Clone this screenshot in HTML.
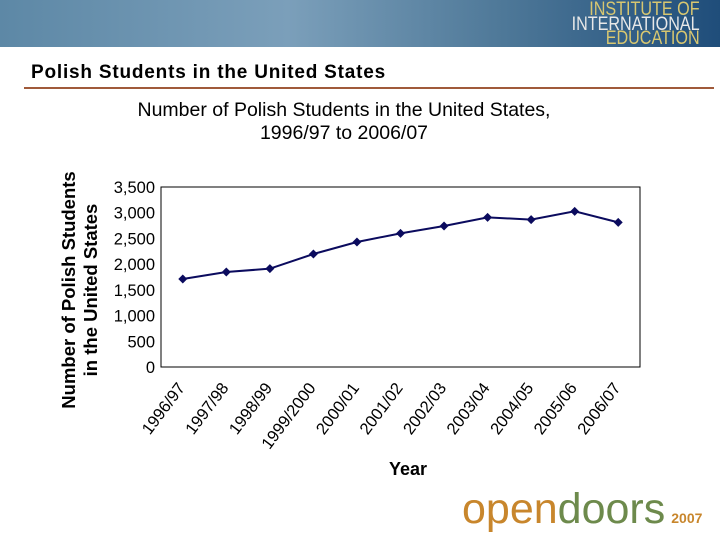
<!DOCTYPE html>
<html><head><meta charset="utf-8"><style>
body{margin:0;width:720px;height:540px;overflow:hidden;background:#fff;font-family:"Liberation Sans",sans-serif;position:relative}
#banner{position:absolute;left:0;top:0;width:720px;height:47px;background:linear-gradient(90deg,#5d88a6 0%,#7b9fba 40%,#4e7898 70%,#1f4d7a 100%)}
#iie{position:absolute;right:20px;top:3px;text-align:right;font-size:19px;line-height:14.5px;letter-spacing:0px;color:#e8e8e8;transform:scaleX(0.85);transform-origin:right top}
#iie span{color:#d8c770}
#title{position:absolute;left:31px;top:62px;font-weight:bold;font-size:19px;letter-spacing:0.8px;color:#000}
#rule{position:absolute;left:24px;top:87px;width:690px;height:2px;background:#a05a3a}
#od{position:absolute;left:462px;top:485px;font-size:43px;color:#c8862c}
#od b{color:#6d8a4c;font-weight:normal}
#od small{font-size:14px;font-weight:bold;color:#c8862c;margin-left:6px}
</style></head><body>
<div id="banner">
<div id="iie"><span>INSTITUTE OF</span><br>INTERNATIONAL<br><span>EDUCATION</span></div></div>
<div id="title">Polish Students in the United States</div>
<div id="rule"></div>
<div id="od">open<b>doors</b><small>2007</small></div>
<svg id="chart" width="720" height="540" style="position:absolute;left:0;top:0"></svg>
<script>
const categories=["1996/97","1997/98","1998/99","1999/2000","2000/01","2001/02","2002/03","2003/04","2004/05","2005/06","2006/07"];
const values=[1711,1847,1912,2197,2430,2599,2741,2910,2865,3027,2812];
const ticks=[0,500,1000,1500,2000,2500,3000,3500];
const tickLabels=["0","500","1,000","1,500","2,000","2,500","3,000","3,500"];
const NS="http://www.w3.org/2000/svg",svg=document.getElementById('chart');
const L=161,R=640,T=187,B=367,maxV=3500;
const x=i=>L+(R-L)/categories.length*(i+0.5);
const y=v=>B-(B-T)*v/maxV;
function mk(t,a,txt){const e=document.createElementNS(NS,t);for(const k in a)e.setAttribute(k,a[k]);if(txt!=null)e.textContent=txt;svg.appendChild(e);return e;}
let e;
e=mk('text',{x:344,y:116,'text-anchor':'middle','font-size':19.5,'font-family':'Liberation Sans'},'Number of Polish Students in the United States,');

e=mk('text',{x:344,y:139,'text-anchor':'middle','font-size':19.5,'font-family':'Liberation Sans'},'1996/97 to 2006/07');

e=mk('rect',{x:L,y:T,width:R-L,height:B-T,fill:'none',stroke:'#000','stroke-width':1});

ticks.forEach((t,i)=>{e=mk('text',{x:155,y:y(t)+6,'text-anchor':'end','font-size':16.5,'font-family':'Liberation Sans'},tickLabels[i]);
});
categories.forEach((c,i)=>{const px=x(i)+3,py=388;
e=mk('text',{x:px,y:py,'text-anchor':'end','font-size':16.5,'font-family':'Liberation Sans',transform:`rotate(-53 ${px} ${py})`},c);
});
e=mk('polyline',{points:values.map((v,i)=>x(i)+','+y(v)).join(' '),fill:'none',stroke:'#0b0b5e','stroke-width':2});

values.forEach((v,i)=>{const cx=x(i),cy=y(v);
e=mk('polygon',{points:`${cx},${cy-4.5} ${cx+4.5},${cy} ${cx},${cy+4.5} ${cx-4.5},${cy}`,fill:'#0b0b5e'});
});
e=mk('text',{x:408,y:475,'text-anchor':'middle','font-size':18,'font-weight':'bold','font-family':'Liberation Sans'},'Year');

e=mk('text',{x:0,y:0,'text-anchor':'middle','font-size':18.5,'font-weight':'bold','font-family':'Liberation Sans',transform:'translate(75 290) rotate(-90)'},'Number of Polish Students');

e=mk('text',{x:0,y:0,'text-anchor':'middle','font-size':18.5,'font-weight':'bold','font-family':'Liberation Sans',transform:'translate(97 290) rotate(-90)'},'in the United States');

</script>
</body></html>
